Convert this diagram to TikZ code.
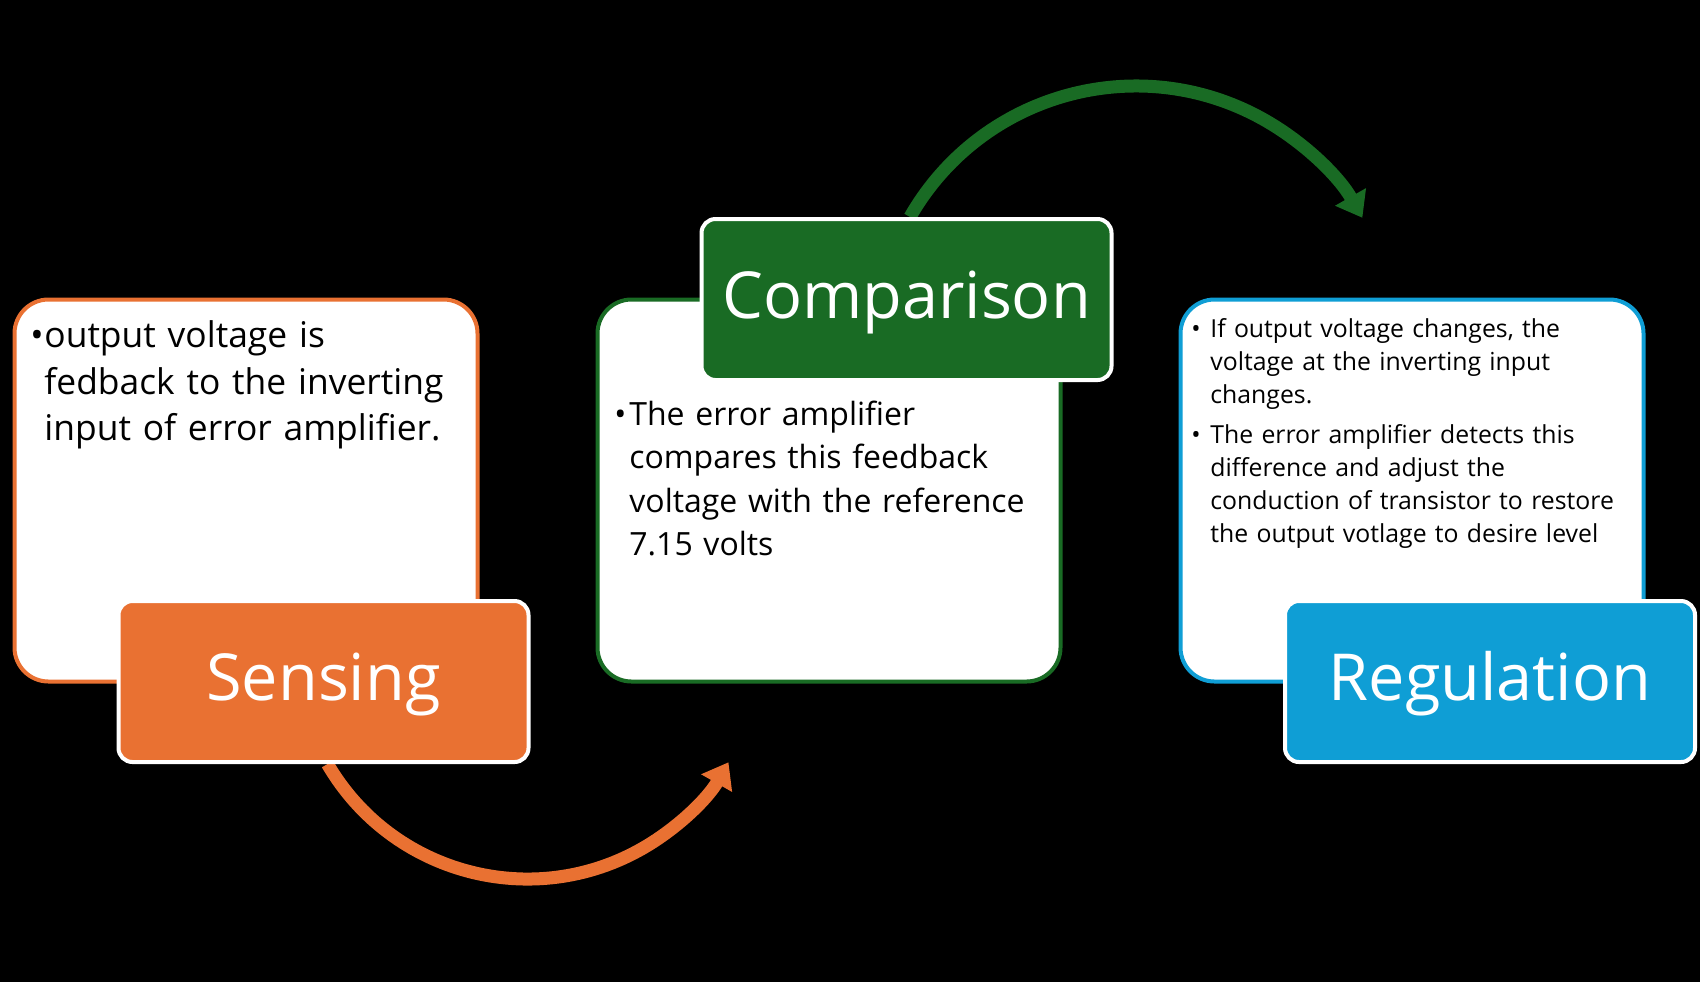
\documentclass[tikz,border=0pt]{standalone}
\usepackage{fontspec}
\setmainfont{Open Sans}
\usetikzlibrary{arrows.meta,backgrounds}

\definecolor{senseorange}{HTML}{E97132}
\definecolor{compgreen}{HTML}{196B24}
\definecolor{regblue}{HTML}{0F9ED5}

\newcommand{\bpoint}[2]{\hangindent=#1\hangafter=1\noindent\makebox[#1][l]{\strut\textbullet}#2\par}

\tikzset{
  bodybox/.style={draw=#1, line width=2pt, fill=white, rounded corners=17pt, minimum width=231.5pt, minimum height=191pt, inner sep=0pt},
  titlebox/.style={draw=white, line width=2pt, fill=#1, rounded corners=7pt, minimum width=205pt, minimum height=80.5pt, inner sep=0pt, text=white, font=\fontsize{32.4}{36}\selectfont, text height=23pt, text depth=4pt},
  bodytext/.style={anchor=north west, inner sep=0pt, text width=260pt, align=left, text=black},
  flowarc/.style={draw=#1, line width=6.5pt, -{Triangle[width=17pt,length=12pt]}},
}

\begin{document}
\begin{tikzpicture}[x=0.5pt,y=-0.5pt]
\useasboundingbox (0,0) rectangle (1700,982);

	% white boxes
	\node[bodybox=senseorange] (sbody) at (246,490.5) {};
	\node[bodybox=compgreen] (cbody) at (829,490.5) {};
	\node[bodybox=regblue] (rbody) at (1412,490.5) {};

	% texts
	\node[bodytext, font=\fontsize{17.7}{23.3}\selectfont] (stext) at (30,314.4) {\bpoint{7pt}{output voltage is\newline fedback to the inverting\newline input of error amplifier.}};
	\node[bodytext, font=\fontsize{16}{21.7}\selectfont] (ctext) at (614,394.6) {\bpoint{7.5pt}{The error amplifier\newline compares this feedback\newline voltage with the reference\newline 7.15 volts}};
	\node[bodytext, font=\fontsize{12.4}{16.5}\selectfont] (rtext) at (1191,313.9) {\setlength{\parskip}{3.6pt}%
		\bpoint{9.5pt}{If output voltage changes, the\newline voltage at the inverting input\newline changes.}%
		\bpoint{9.5pt}{The error amplifier detects this\newline difference and adjust the\newline conduction of transistor to restore\newline the output votlage to desire level}};

	% title boxes
	\node[titlebox=senseorange] (sens) at (323.5,681.5) {Sensing};
	\node[titlebox=compgreen] (comp) at (906.5,299.5) {Comparison};
	\node[titlebox=regblue] (reg) at (1490,681.5) {Regulation};

	% arrows
	\begin{scope}[on background layer]
	\fill[black] (0,0) rectangle (1700,982);
	\draw[flowarc=senseorange] ([xshift=2pt]sens.south) arc[start angle=149.8, end angle=29.7, radius=231.4];
	\draw[flowarc=compgreen] ([xshift=1.75pt]comp.north) arc[start angle=209.8, end angle=330.4, radius=260.4];
	\end{scope}
\end{tikzpicture}
\end{document}
